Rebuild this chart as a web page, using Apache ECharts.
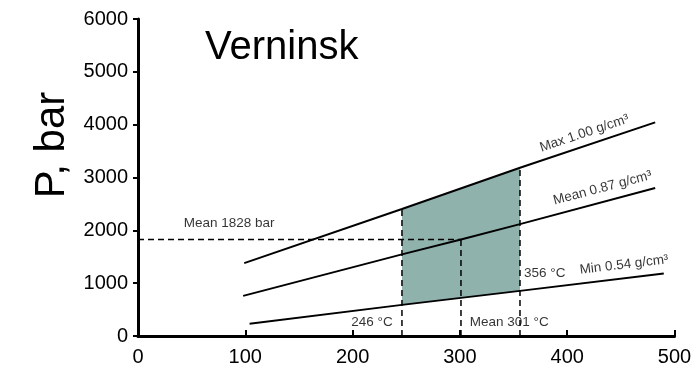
<!DOCTYPE html>
<html>
<head>
<meta charset="utf-8">
<script src="https://cdn.jsdelivr.net/npm/echarts@6/dist/echarts.min.js"></script>
<style>html,body{margin:0;padding:0;background:#fff}#c{width:696px;height:372px}</style>
</head>
<body>
<div id="c"></div>
<script>
// ---- data ----
const xTicks = [0, 100, 200, 300, 400, 500];
const yTicks = [0, 1000, 2000, 3000, 4000, 5000, 6000];
const maxLine  = [[99, 1380], [246, 2405], [356, 3184], [482, 4044]];   // Max 1.00 g/cm3
const meanLine = [[98, 760], [246, 1545], [301, 1828], [356, 2118], [482, 2800]]; // Mean 0.87 g/cm3
const minLine  = [[104, 234], [246, 589], [356, 854], [490, 1183]];     // Min 0.54 g/cm3
const tMin = 246, tMean = 301, tMax = 356;
const pMean = 1828;
const FONT = '"Liberation Sans", Arial, sans-serif';

function valueAt(line, x) {
  for (const p of line) if (p[0] === x) return p[1];
  return null;
}

const annotations = [
  { pos: [416, 3835], text: 'Max 1.00 g/cm³', rot: 18.5 },
  { pos: [433, 2800], text: 'Mean 0.87 g/cm³', rot: 14.8 },
  { pos: [453, 1348], text: 'Min 0.54 g/cm³', rot: 6.8 },
  { pos: [379, 1196], text: '356 °C', rot: 0 },
  { pos: [218, 266], text: '246 °C', rot: 0 },
  { pos: [346, 266], text: 'Mean 301 °C', rot: 0 },
  { pos: [85, 2126], text: 'Mean 1828 bar', rot: 0 }
];

const dash = { color: '#000', width: 1.5, type: [6, 4] };
const solid = { color: '#000', width: 2 };

const chart = echarts.init(document.getElementById('c'));
chart.setOption({
  animation: false,
  title: {
    text: 'Verninsk', left: 205, top: 28, padding: 0,
    textStyle: { fontSize: 40, fontWeight: 'normal', color: '#000', fontFamily: FONT }
  },
  graphic: [{
    type: 'text', x: 52, y: 145, rotation: Math.PI / 2,
    style: { text: 'P, bar', font: '42px ' + FONT, fill: '#000',
      textAlign: 'center', textVerticalAlign: 'middle', align: 'center', verticalAlign: 'middle' }
  }],
  grid: { left: 138, right: 21.5, top: 19, bottom: 36 },
  xAxis: {
    type: 'value', min: xTicks[0], max: xTicks[xTicks.length - 1], interval: 100,
    axisLine: { lineStyle: { color: '#000', width: 3 } },
    axisTick: { show: true, inside: true, length: 6, lineStyle: { color: '#000', width: 2 } },
    axisLabel: { color: '#000', fontSize: 20, fontFamily: FONT, margin: 11, formatter: v => String(v) },
    splitLine: { show: false }
  },
  yAxis: {
    type: 'value', min: yTicks[0], max: yTicks[yTicks.length - 1], interval: 1000,
    axisLine: { show: true, lineStyle: { color: '#000', width: 3 } },
    axisTick: { show: true, length: 5, lineStyle: { color: '#000', width: 2 } },
    axisLabel: { color: '#000', fontSize: 20, fontFamily: FONT, margin: 10, formatter: v => String(v) },
    splitLine: { show: false }
  },
  series: [
    {
      type: 'custom', z: 1, silent: true,
      data: [0],
      renderItem: function (params, api) {
        const pts = [
          api.coord([tMin, valueAt(minLine, tMin)]),
          api.coord([tMin, valueAt(maxLine, tMin)]),
          api.coord([tMax, valueAt(maxLine, tMax)]),
          api.coord([tMax, valueAt(minLine, tMax)])
        ];
        return { type: 'polygon', shape: { points: pts }, style: { fill: '#8fb2ad' } };
      }
    },
    { type: 'line', z: 3, data: maxLine, symbol: 'none', lineStyle: solid },
    { type: 'line', z: 3, data: meanLine, symbol: 'none', lineStyle: solid },
    { type: 'line', z: 3, data: minLine, symbol: 'none', lineStyle: solid },
    { type: 'line', z: 4, data: [[tMin, 0], [tMin, valueAt(maxLine, tMin)]], symbol: 'none', lineStyle: dash },
    { type: 'line', z: 4, data: [[tMax, 0], [tMax, valueAt(maxLine, tMax)]], symbol: 'none', lineStyle: dash },
    { type: 'line', z: 4, data: [[tMean, 0], [tMean, pMean]], symbol: 'none', lineStyle: dash },
    { type: 'line', z: 4, data: [[0, pMean], [tMean, pMean]], symbol: 'none', lineStyle: dash },
    {
      type: 'scatter', z: 5, symbolSize: 0, silent: true,
      data: annotations.map(a => ({
        value: a.pos,
        label: { show: true, formatter: a.text, rotate: a.rot, position: 'inside',
          align: 'center', verticalAlign: 'middle',
          color: '#000', fontSize: 13.5, fontFamily: FONT }
      }))
    }
  ]
});
</script>
</body>
</html>
